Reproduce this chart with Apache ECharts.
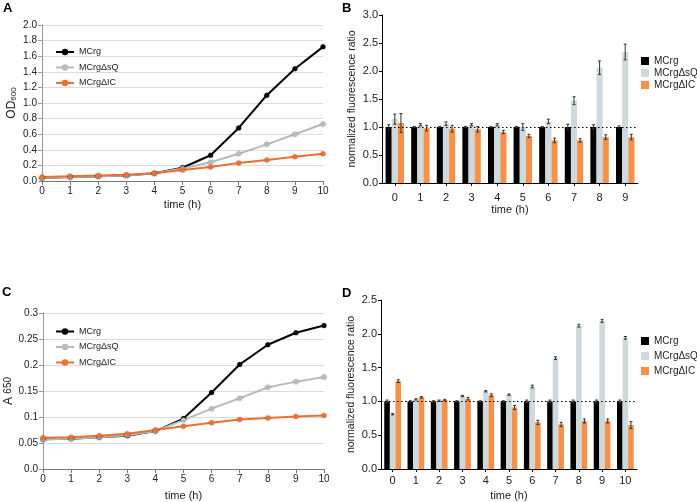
<!DOCTYPE html>
<html>
<head>
<meta charset="utf-8">
<script src="https://cdn.jsdelivr.net/npm/echarts@6/dist/echarts.min.js"></script>
<style>
  html, body { margin: 0; padding: 0; background: #fff; }
  #main { width: 697px; height: 502px; }
</style>
</head>
<body>
<div id="main"></div>
<script>
// growth curves (A: OD600, C: A650)
var hours = ['0','1','2','3','4','5','6','7','8','9','10'];
var odMCrg = [0.04,0.05,0.06,0.07,0.10,0.17,0.33,0.68,1.10,1.44,1.72];
var odSQ   = [0.04,0.05,0.06,0.07,0.10,0.16,0.24,0.35,0.47,0.60,0.73];
var odIC   = [0.05,0.06,0.07,0.08,0.10,0.14,0.18,0.23,0.27,0.31,0.35];

var aMCrg = [0.057,0.058,0.061,0.064,0.073,0.097,0.147,0.201,0.239,0.262,0.276];
var aSQ   = [0.057,0.058,0.061,0.065,0.073,0.094,0.116,0.136,0.157,0.168,0.177];
var aIC   = [0.060,0.061,0.064,0.068,0.075,0.082,0.089,0.095,0.098,0.101,0.103];

// fluorescence ratio (B: 0-9 h, D: 0-10 h)
var hoursB = ['0','1','2','3','4','5','6','7','8','9'];
var bMCrg    = [1.0,1.0,1.0,1.0,1.0,1.0,1.0,1.0,1.0,1.0];
var bMCrgErr = [0.04,0.01,0.01,0.01,0.01,0.01,0.01,0.05,0.04,0.02];
var bSQ      = [1.14,1.04,1.06,1.04,1.04,1.00,1.10,1.47,2.06,2.34];
var bSQErr   = [0.09,0.02,0.03,0.02,0.02,0.06,0.04,0.07,0.12,0.14];
var bIC      = [1.07,0.98,0.97,0.96,0.91,0.84,0.76,0.76,0.82,0.82];
var bICErr   = [0.17,0.05,0.06,0.05,0.03,0.03,0.04,0.03,0.04,0.05];

var dMCrg    = [1.0,1.0,1.0,1.0,1.0,1.0,1.0,1.0,1.0,1.0,1.0];
var dMCrgErr = [0.02,0.01,0.01,0.01,0.01,0.01,0.02,0.02,0.02,0.02,0.02];
var dSQ      = [0.81,1.03,1.01,1.08,1.15,1.10,1.22,1.64,2.12,2.19,1.94];
var dSQErr   = [0.01,0.01,0.01,0.01,0.01,0.01,0.02,0.02,0.02,0.02,0.02];
var dIC      = [1.30,1.06,1.02,1.04,1.09,0.91,0.69,0.66,0.71,0.71,0.65];
var dICErr   = [0.02,0.01,0.01,0.02,0.02,0.03,0.03,0.03,0.03,0.03,0.05];

var names = ['MCrg', 'MCrgΔsQ', 'MCrgΔIC'];
var lineColors = ['#000000', '#b5bcbe', '#ee7030'];
var barColors = ['#000000', '#cfd9db', '#f5914a'];
var catGap = 0.28;
var font = 'Liberation Sans, Arial, sans-serif';

var chart = echarts.init(document.getElementById('main'));

function lineSeries(gi, name, data, color) {
	return {
		type: 'line', name: name, xAxisIndex: gi, yAxisIndex: gi,
		data: data, color: color,
		symbol: 'circle', symbolSize: 5,
		lineStyle: { width: 2, color: color },
		itemStyle: { color: color, shadowBlur: 2, shadowColor: 'rgba(0,0,0,0.35)' },
		z: 3
	};
}

function barSeries(gi, name, data, color) {
	return {
		type: 'bar', name: name, xAxisIndex: gi, yAxisIndex: gi,
		data: data, itemStyle: { color: color },
		barGap: '0%', barCategoryGap: (catGap * 100) + '%',
		z: 3
	};
}

function errSeries(gi, vals, errs, idx) {
	return {
		type: 'custom', xAxisIndex: gi, yAxisIndex: gi, z: 5, silent: true,
		data: vals.map(function(v, i){ return [i, v, errs[i]]; }),
		renderItem: function(params, api) {
			var i = api.value(0), v = api.value(1), e = api.value(2);
			var band = api.size([1, 0])[0];
			var bw = band * (1 - catGap) / 3;
			var off = (idx - 1) * bw;
			var hi = api.coord([i, v + e]);
			var lo = api.coord([i, v - e]);
			var x = hi[0] + off;
			var st = { stroke: '#333', lineWidth: 1 };
			return {
				type: 'group',
				children: [
					{ type: 'line', shape: { x1: x, y1: hi[1], x2: x, y2: lo[1] }, style: st },
					{ type: 'line', shape: { x1: x - 1.5, y1: hi[1], x2: x + 1.5, y2: hi[1] }, style: st },
					{ type: 'line', shape: { x1: x - 1.5, y1: lo[1], x2: x + 1.5, y2: lo[1] }, style: st }
				]
			};
		}
	};
}

function refLine(gi) {
	return {
		type: 'line', xAxisIndex: gi, yAxisIndex: gi, data: [], z: 1, silent: true,
		markLine: {
			symbol: 'none', silent: true, label: { show: false },
			lineStyle: { color: '#000', type: [1.5, 2.5], width: 1.2 },
			data: [{ yAxis: 1 }]
		}
	};
}

function growthX(gi, gap) {
	return {
		type: 'category', gridIndex: gi, data: hours, boundaryGap: false,
		name: 'time (h)', nameLocation: 'middle', nameGap: gap,
		nameTextStyle: { fontSize: 11, color: '#222', fontFamily: font },
		axisLine: { lineStyle: { color: '#777' } },
		axisTick: { show: true, length: 4, lineStyle: { color: '#777' } },
		axisLabel: { fontSize: 10, color: '#222', margin: 5, fontFamily: font }
	};
}

function growthY(gi, max, interval, fmt, name, gap) {
	return {
		type: 'value', gridIndex: gi, min: 0, max: max, interval: interval,
		name: name, nameLocation: 'middle', nameGap: gap,
		axisLine: { show: true, lineStyle: { color: '#999' } },
		axisTick: { show: true, length: 4, lineStyle: { color: '#999' } },
		splitLine: { lineStyle: { color: '#dcdcdc' } },
		axisLabel: { fontSize: 10, color: '#222', margin: 5, fontFamily: font, formatter: fmt }
	};
}

function ratioX(gi, data, margin) {
	return {
		type: 'category', gridIndex: gi, data: data,
		name: 'time (h)', nameLocation: 'middle', nameGap: 21,
		nameTextStyle: { fontSize: 11, color: '#222', fontFamily: font },
		axisLine: { lineStyle: { color: '#000' } },
		axisTick: { show: true, alignWithLabel: true, length: 3, lineStyle: { color: '#000' } },
		axisLabel: { fontSize: 11, color: '#222', margin: margin, fontFamily: font }
	};
}

function ratioY(gi, max) {
	return {
		type: 'value', gridIndex: gi, min: 0, max: max, interval: 0.5,
		name: 'normalized fluorescence ratio', nameLocation: 'middle', nameGap: 24,
		nameTextStyle: { fontSize: 10.5, color: '#222', fontFamily: font },
		axisLine: { show: true, lineStyle: { color: '#000' } },
		axisTick: { show: true, length: 3, lineStyle: { color: '#000' } },
		splitLine: { show: false },
		axisLabel: { fontSize: 11, color: '#222', margin: 4, fontFamily: font,
			formatter: function(v){ return v.toFixed(1); } }
	};
}

function lineLegend(top) {
	return {
		orient: 'vertical', left: 55, top: top, padding: 0,
		itemWidth: 18, itemHeight: 8, itemGap: 4.5,
		textStyle: { fontSize: 9, color: '#222', fontFamily: font, lineHeight: 11 },
		selectedMode: false,
		data: names.map(function(n, i){
			return { name: n, itemStyle: { color: lineColors[i] }, lineStyle: { color: lineColors[i], width: 2 } };
		})
	};
}

function barLegend(top, gap) {
	return {
		orient: 'vertical', left: 641, top: top, padding: 0,
		itemWidth: 8, itemHeight: 8, itemGap: gap,
		textStyle: { fontSize: 10, color: '#222', fontFamily: font, lineHeight: 10 },
		selectedMode: false,
		data: names.map(function(n, i){
			return { name: n, icon: 'rect', itemStyle: { color: barColors[i] } };
		})
	};
}

var twoDec = function(v){ return v === 0 ? '0.0' : String(+v.toFixed(2)); };

var option = {
	animation: false,
	textStyle: { fontFamily: font },
	grid: [
		{ left: 42, top: 25, width: 281, height: 156 },
		{ left: 382, top: 15, width: 256, height: 168 },
		{ left: 43, top: 313, width: 281, height: 156 },
		{ left: 381, top: 300, width: 256, height: 169 }
	],
	xAxis: [ growthX(0, 18), ratioX(1, hoursB, 9), growthX(2, 21), ratioX(3, hours, 6) ],
	yAxis: [
		growthY(0, 2.0, 0.2, function(v){ return v.toFixed(1); }, '{a|OD}{s|600}', 24),
		ratioY(1, 3.0),
		growthY(2, 0.3, 0.05, twoDec, '{a|A }{s|650}', 26),
		ratioY(3, 2.5)
	],
	legend: [ lineLegend(46.5), barLegend(56, 2), lineLegend(326), barLegend(336, 5) ],
	graphic: [
		{ type: 'text', left: 3, top: 2, style: { text: 'A', font: 'bold 13px ' + font, fill: '#000' } },
		{ type: 'text', left: 342, top: 2, style: { text: 'B', font: 'bold 13px ' + font, fill: '#000' } },
		{ type: 'text', left: 2, top: 286, style: { text: 'C', font: 'bold 13px ' + font, fill: '#000' } },
		{ type: 'text', left: 342, top: 287, style: { text: 'D', font: 'bold 13px ' + font, fill: '#000' } }
	],
	series: [
		lineSeries(0, names[0], odMCrg, lineColors[0]),
		lineSeries(0, names[1], odSQ, lineColors[1]),
		lineSeries(0, names[2], odIC, lineColors[2]),
		lineSeries(2, names[0], aMCrg, lineColors[0]),
		lineSeries(2, names[1], aSQ, lineColors[1]),
		lineSeries(2, names[2], aIC, lineColors[2]),
		refLine(1),
		barSeries(1, names[0], bMCrg, barColors[0]),
		barSeries(1, names[1], bSQ, barColors[1]),
		barSeries(1, names[2], bIC, barColors[2]),
		errSeries(1, bMCrg, bMCrgErr, 0),
		errSeries(1, bSQ, bSQErr, 1),
		errSeries(1, bIC, bICErr, 2),
		refLine(3),
		barSeries(3, names[0], dMCrg, barColors[0]),
		barSeries(3, names[1], dSQ, barColors[1]),
		barSeries(3, names[2], dIC, barColors[2]),
		errSeries(3, dMCrg, dMCrgErr, 0),
		errSeries(3, dSQ, dSQErr, 1),
		errSeries(3, dIC, dICErr, 2)
	]
};

// rich text for subscripted axis names
option.yAxis[0].nameTextStyle = { color: '#222', rich: {
	a: { fontSize: 12, fontFamily: font, color: '#222' },
	s: { fontSize: 8, fontFamily: font, color: '#222', padding: [5, 0, 0, 0] }
}};
option.yAxis[2].nameTextStyle = { color: '#222', rich: {
	a: { fontSize: 12, fontFamily: font, color: '#222' },
	s: { fontSize: 10, fontFamily: font, color: '#222' }
}};

chart.setOption(option);
</script>
</body>
</html>
